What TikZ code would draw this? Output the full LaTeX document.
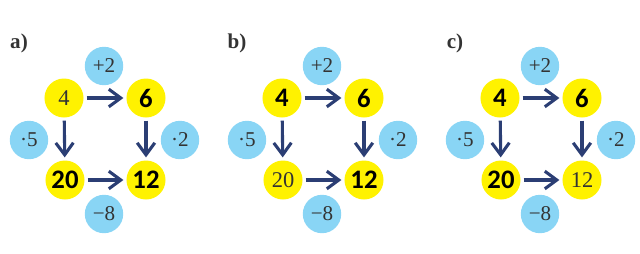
\documentclass[tikz,border=0pt]{standalone}
\usepackage{fontspec}
\setmainfont{Liberation Serif}
\newfontfamily\numfont{Carlito}
\usepackage{tikz}
\usetikzlibrary{arrows.meta}
\definecolor{sun}{HTML}{FFF200}
\definecolor{sky}{HTML}{89D5F5}
\definecolor{navy}{HTML}{2B3E74}
\definecolor{ink}{HTML}{333333}

\begin{document}
\begin{tikzpicture}[x=0.025cm,y=-0.025cm,
  num/.style={circle,fill=sun,inner sep=0pt,minimum size=0.975cm},
  thin num/.style={num,text=ink,font=\fontsize{16}{16}\selectfont},
  bold num/.style={num,text=black,font=\numfont\bfseries\fontsize{19}{19}\selectfont},
  op/.style={circle,fill=sky,inner sep=0pt,minimum size=0.96cm,text=ink,font=\fontsize{15}{15}\selectfont},
  tag/.style={text=ink,font=\bfseries\fontsize{15}{15}\selectfont},
  arr/.style={navy,line width=2.2pt,-{Straight Barb[length=0.3cm,width=0.44cm]},shorten <=0.07cm,shorten >=0.07cm}]
\useasboundingbox (0,0) rectangle (640,253);
\node[tag] (ta) at (19,43) {a)};
\node[op] (aplus) at (104,66) {+2};
\node[op] (atimesl) at (29,140) {·5};
\node[op] (atimesr) at (180,140) {·2};
\node[op] (aminus) at (104,214) {−8};
\node[thin num] (a4) at (64,98) {4};
\node[bold num] (a6) at (146,98) {6};
\node[bold num] (a20) at (65,180) {20};
\node[bold num] (a12) at (146,180) {12};
\draw[arr] (a4) -- (a6);
\draw[arr] (a4) -- (a20);
\draw[arr] (a6) -- (a12);
\draw[arr] (a20) -- (a12);

\node[tag] (tb) at (237,43) {b)};
\node[op] (bplus) at (322,66) {+2};
\node[op] (btimesl) at (247,140) {·5};
\node[op] (btimesr) at (398,140) {·2};
\node[op] (bminus) at (322,214) {−8};
\node[bold num] (b4) at (282,98) {4};
\node[bold num] (b6) at (364,98) {6};
\node[thin num] (b20) at (283,180) {20};
\node[bold num] (b12) at (364,180) {12};
\draw[arr] (b4) -- (b6);
\draw[arr] (b4) -- (b20);
\draw[arr] (b6) -- (b12);
\draw[arr] (b20) -- (b12);

\node[tag] (tc) at (455,43) {c)};
\node[op] (cplus) at (540,66) {+2};
\node[op] (ctimesl) at (465,140) {·5};
\node[op] (ctimesr) at (616,140) {·2};
\node[op] (cminus) at (540,214) {−8};
\node[bold num] (c4) at (500,98) {4};
\node[bold num] (c6) at (582,98) {6};
\node[bold num] (c20) at (501,180) {20};
\node[thin num] (c12) at (582,180) {12};
\draw[arr] (c4) -- (c6);
\draw[arr] (c4) -- (c20);
\draw[arr] (c6) -- (c12);
\draw[arr] (c20) -- (c12);
\end{tikzpicture}
\end{document}
